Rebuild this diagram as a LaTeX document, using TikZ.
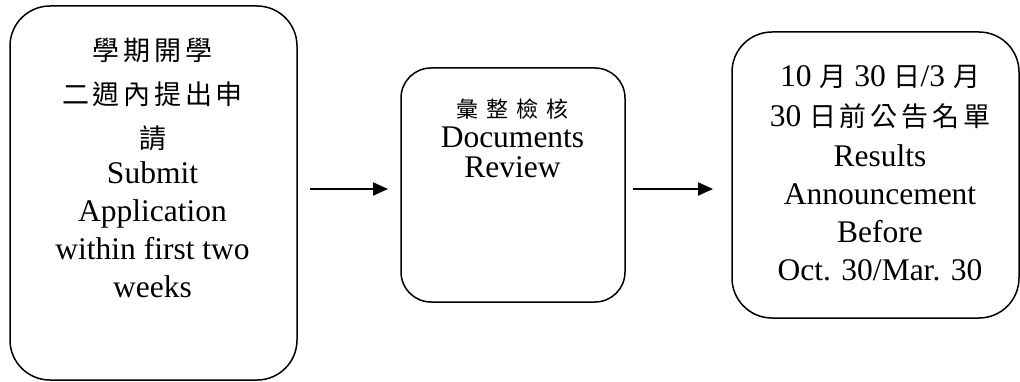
\documentclass[tikz,border=0pt]{standalone}
\usepackage{fontspec}
\setmainfont{Liberation Serif}
\newfontfamily\cjk{Noto Sans CJK TC}
\usetikzlibrary{arrows.meta}
\newcommand{\zh}[1]{{\cjk\addfontfeature{LetterSpace=14}\fontsize{27}{38}\selectfont#1}}
\newcommand{\zhs}[1]{{\cjk\addfontfeature{LetterSpace=36}\fontsize{22}{30}\selectfont#1}}
\tikzset{
  flowbox/.style={draw,line width=1.5pt,rounded corners=40pt,minimum width=287pt,inner sep=0pt},
  flowtext/.style={align=center,anchor=base,inner sep=0pt,font=\fontsize{31.5}{38}\selectfont},
  flowarrow/.style={-{Triangle[length=15pt,width=13pt]},line width=2pt}
}
\begin{document}
\begin{tikzpicture}[x=1pt,y=-1pt]
\useasboundingbox (0,0) rectangle (1020,382);
% boxes
\node[flowbox,minimum height=374pt] (apply) at (153.5,193) {};
\node[flowbox,minimum width=224pt,minimum height=234pt,rounded corners=30pt] (review) at (513,185) {};
\node[flowbox,minimum height=286pt] (result) at (875.5,175) {};
% texts (placed by the baseline of their last line)
\node[flowtext] (applytext) at (152.5,297) {\zh{學期開學}\\[6pt] \zh{二週內提出申}\\[6pt] \zh{請}\\[-3pt] Submit\\ Application\\ within first two\\ weeks};
\node[flowtext,font=\fontsize{31.5}{30}\selectfont] (reviewtext) at (512.5,178) {\zhs{彙整檢核}\\ Documents\\ Review};
\node[flowtext] (resulttext) at (880,280) {10 \zh{月} 30 \zh{日}/3 \zh{月}\\[2pt] 30 \zh{日前公告名單}\\[2pt] Results\\ Announcement\\ Before\\ Oct. 30/Mar. 30};
% arrows
\coordinate (a1s) at (310,189);
\coordinate (a1e) at (388,189);
\coordinate (a2s) at (633,189);
\coordinate (a2e) at (713,189);
\draw[flowarrow] (a1s) -- (a1e);
\draw[flowarrow] (a2s) -- (a2e);
\end{tikzpicture}
\end{document}
